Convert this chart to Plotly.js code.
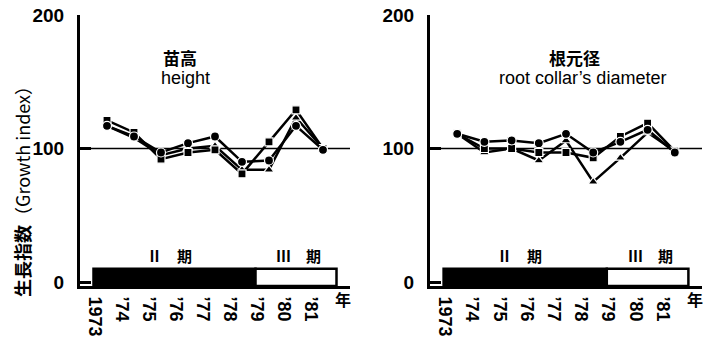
<!DOCTYPE html>
<html>
<head>
<meta charset="utf-8">
<script src="https://cdn.plot.ly/plotly-3.0.1.min.js"></script>
<style>html,body{margin:0;padding:0;background:#fff;}#chart{width:704px;height:339px;}</style>
</head>
<body>
<div id="chart"></div>
<script>
// ---- data ----
const years = [1973, 1974, 1975, 1976, 1977, 1978, 1979, 1980, 1981];
const yearLabels = ["1973", "’74", "’75", "’76", "’77", "’78", "’79", "’80", "’81"];
const yTicks = [0, 100, 200];
const referenceValue = 100;

// 苗高 height
const heightCircle   = [117, 109, 97, 104, 109, 90, 91, 117, 99];
const heightSquare   = [121, 112, 92, 97, 99, 81, 105, 129, 100];
const heightTriangle = [117, 108, 95, 100, 102, 84, 84, 123, 100];

// 根元径 root collar's diameter
const diamCircle   = [111, 105, 106, 104, 111, 97, 105, 114, 97];
const diamSquare   = [111, 100, 100, 97, 97, 93, 109, 119, 98];
const diamTriangle = [111, 97, 100, 91, 106, 75, 93, 112, 98];

// periods
const periodLabels = ["Ⅱ　期", "Ⅲ　期"];
const periodStart = [1972.5, 1978.5];
const periodEnd   = [1978.5, 1981.5];
const periodBarHeight = 10;

const panelTitlesJa = ["苗高", "根元径"];
const panelTitlesEn = ["height", "root collar’s diameter"];
const yTitle = "<b>生長指数</b>（Growth index）";
const yearUnit = "年";

// ---- styling ----
const numFont = "'Liberation Sans', Arial, sans-serif";
const cjkFont = "'Noto Sans CJK JP', 'Liberation Sans', sans-serif";
const latinFont = "'Liberation Sans', Arial, sans-serif";
const yMin = -3;

function seriesTrace(y, symbol, size, xa, ya) {
  return {
    x: years, y: y, xaxis: xa, yaxis: ya, type: 'scatter', mode: 'lines+markers',
    line: {color: '#000', width: 2.5},
    marker: {symbol: symbol, size: size, color: '#000', line: {color: '#fff', width: 1.2}},
    hoverinfo: 'skip', showlegend: false, cliponaxis: false
  };
}
function periodTraces(xa, ya) {
  const fills = ['#000', '#fff'];
  return periodLabels.map((lab, i) => ({
    type: 'bar', xaxis: xa, yaxis: ya,
    x: [(periodStart[i] + periodEnd[i]) / 2],
    width: [periodEnd[i] - periodStart[i]],
    base: [yMin],
    y: [periodBarHeight - yMin],
    marker: {color: fills[i], line: {color: '#000', width: 2.5}},
    hoverinfo: 'skip', showlegend: false
  }));
}

const traces = [
  ...periodTraces('x', 'y'),
  seriesTrace(heightTriangle, 'triangle-up', 9, 'x', 'y'),
  seriesTrace(heightSquare, 'square', 8, 'x', 'y'),
  seriesTrace(heightCircle, 'circle', 9, 'x', 'y'),
  ...periodTraces('x2', 'y2'),
  seriesTrace(diamTriangle, 'triangle-up', 9, 'x2', 'y2'),
  seriesTrace(diamSquare, 'square', 8, 'x2', 'y2'),
  seriesTrace(diamCircle, 'circle', 9, 'x2', 'y2')
];

const yDomain = [(339 - 286) / 339, (339 - 15) / 339];
function xAxis(domain, anchor) {
  return {
    domain: domain, anchor: anchor, range: [years[0] - 1, years[years.length - 1] + 1],
    showline: true, linewidth: 3, linecolor: '#000', showgrid: false, zeroline: false,
    ticks: '', tickmode: 'array',
    tickvals: years.map(v => v - 0.45), ticktext: yearLabels,
    tickangle: 90, ticklabelstandoff: 4,
    tickfont: {family: numFont, size: 18, color: '#000', weight: 'bold'}
  };
}
function yAxis(anchor) {
  return {
    domain: yDomain, anchor: anchor, range: [yMin, 200],
    showline: true, linewidth: 3, linecolor: '#000', showgrid: false, zeroline: false,
    ticks: 'inside', ticklen: 11, tickwidth: 3, tickcolor: '#000',
    tickmode: 'array', tickvals: yTicks, ticktext: yTicks.map(String),
    ticklabelstandoff: 9,
    tickfont: {family: numFont, size: 19, color: '#000', weight: 'bold'}
  };
}

const annotations = [];
const panels = [['x', 'y', 1975.7, 1975.9], ['x2', 'y2', 1977.3, 1977.6]];
panels.forEach((p, i) => {
  annotations.push({xref: p[0], yref: p[1], x: p[2], y: 168, text: '<b>' + panelTitlesJa[i] + '</b>',
    xanchor: 'center', yanchor: 'middle',
    showarrow: false, font: {family: cjkFont, size: 17, color: '#000'}});
  annotations.push({xref: p[0], yref: p[1], x: p[3], y: 153, text: panelTitlesEn[i],
    xanchor: 'center', yanchor: 'middle',
    showarrow: false, font: {family: latinFont, size: 18, color: '#000'}});
  periodLabels.forEach((lab, j) => {
    const cx = j === 0 ? (periodStart[j] + periodEnd[j]) / 2 - 0.2 : (periodStart[j] + periodEnd[j]) / 2 + 0.1;
    annotations.push({xref: p[0], yref: p[1], x: cx, y: 20, text: '<b>' + lab + '</b>',
      xanchor: 'center', yanchor: 'middle',
      showarrow: false, font: {family: cjkFont, size: 15, color: '#000'}});
  });
  annotations.push({xref: p[0] + ' domain', yref: p[1] + ' domain', x: 0.975, y: 0, yshift: -13,
    xanchor: 'center', yanchor: 'middle', text: '<b>' + yearUnit + '</b>', showarrow: false,
    font: {family: cjkFont, size: 16, color: '#000'}});
});
annotations.push({xref: 'paper', yref: 'paper', x: 22 / 704, y: (339 - 187) / 339, text: yTitle,
  xanchor: 'center', yanchor: 'middle',
  textangle: -90, showarrow: false, font: {family: cjkFont, size: 18, color: '#000'}});

const shapes = [['x', 'y'], ['x2', 'y2']].map(p => ({
  type: 'line', xref: p[0] + ' domain', yref: p[1], x0: 0, x1: 1, y0: referenceValue, y1: referenceValue,
  line: {color: '#000', width: 1.5}, layer: 'below'
}));

const layout = {
  width: 704, height: 339, margin: {l: 0, r: 0, t: 0, b: 0},
  paper_bgcolor: '#fff', plot_bgcolor: '#fff',
  showlegend: false, hovermode: false, barmode: 'overlay', bargap: 0,
  xaxis: xAxis([80 / 704, 350 / 704], 'y'),
  yaxis: yAxis('x'),
  xaxis2: xAxis([430 / 704, 702 / 704], 'y2'),
  yaxis2: yAxis('x2'),
  annotations: annotations,
  shapes: shapes
};

Plotly.newPlot('chart', traces, layout, {displayModeBar: false, staticPlot: true});
</script>
</body>
</html>
